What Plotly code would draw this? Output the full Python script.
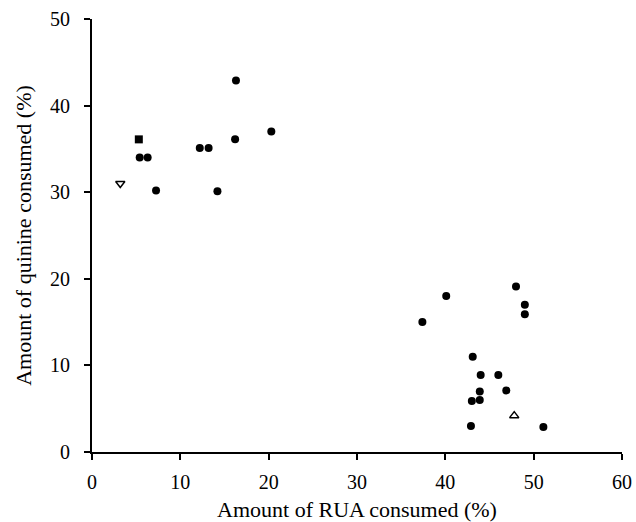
import plotly.graph_objects as go

# Filled circles
circ_x = [5.4, 6.3, 7.25, 12.2, 13.2, 14.2, 16.2, 16.3, 20.3,
          37.4, 40.1, 42.9, 43.0, 43.1, 43.9, 43.9, 44.0, 46.0, 46.9, 48.0, 49.0, 49.0, 51.1]
circ_y = [34.0, 34.0, 30.2, 35.1, 35.1, 30.1, 36.1, 42.9, 37.0,
          15.0, 18.0, 3.0, 5.9, 11.0, 6.0, 7.0, 8.9, 8.9, 7.1, 19.1, 17.0, 15.9, 2.9]
# Filled square
sq_x = [5.3]
sq_y = [36.1]
# Open down-triangle
tdn_x = [3.2]
tdn_y = [31.0]
# Open up-triangle
tup_x = [47.8]
tup_y = [4.2]

x_ticks = [0, 10, 20, 30, 40, 50, 60]
y_ticks = [0, 10, 20, 30, 40, 50]

fig = go.Figure()
fig.add_trace(go.Scatter(x=circ_x, y=circ_y, mode="markers",
                         marker=dict(symbol="circle", size=8, color="black"), cliponaxis=False))
fig.add_trace(go.Scatter(x=sq_x, y=sq_y, mode="markers",
                         marker=dict(symbol="square", size=8, color="black"), cliponaxis=False))
fig.add_trace(go.Scatter(x=tdn_x, y=tdn_y, mode="markers",
                         marker=dict(symbol="triangle-down-open", size=8, color="black",
                                     line=dict(width=1.5, color="black")), cliponaxis=False))
fig.add_trace(go.Scatter(x=tup_x, y=tup_y, mode="markers",
                         marker=dict(symbol="triangle-up-open", size=8, color="black",
                                     line=dict(width=1.5, color="black")), cliponaxis=False))

font = dict(family="Liberation Serif, Times New Roman, serif", size=22, color="black")
tfont = dict(family="Liberation Serif, Times New Roman, serif", size=20, color="black")

fig.update_layout(
    width=636, height=522,
    margin=dict(l=92, r=14, t=19, b=70),
    paper_bgcolor="white", plot_bgcolor="white",
    showlegend=False,
    font=font,
    xaxis=dict(range=[0, 60], tickvals=x_ticks, ticks="outside", ticklen=6, tickwidth=1.5,
               tickcolor="black", showline=True, linecolor="black", linewidth=2,
               showgrid=False, zeroline=False, automargin=False, tickfont=tfont,
               ticklabelstandoff=5,
               title=dict(text="Amount of RUA consumed (%)", standoff=10, font=font)),
    yaxis=dict(range=[0, 50], tickvals=y_ticks, ticks="outside", ticklen=6, tickwidth=1.5,
               tickcolor="black", showline=True, linecolor="black", linewidth=2,
               showgrid=False, zeroline=False, automargin=False, tickfont=tfont,
               ticklabelstandoff=10,
               title=dict(text="Amount of quinine consumed (%)", standoff=12, font=font)),
)

fig.write_html(
    "out.html",
    config={"displayModeBar": False},
    post_script="document.body.style.margin='0';document.body.style.overflow='hidden';",
)
